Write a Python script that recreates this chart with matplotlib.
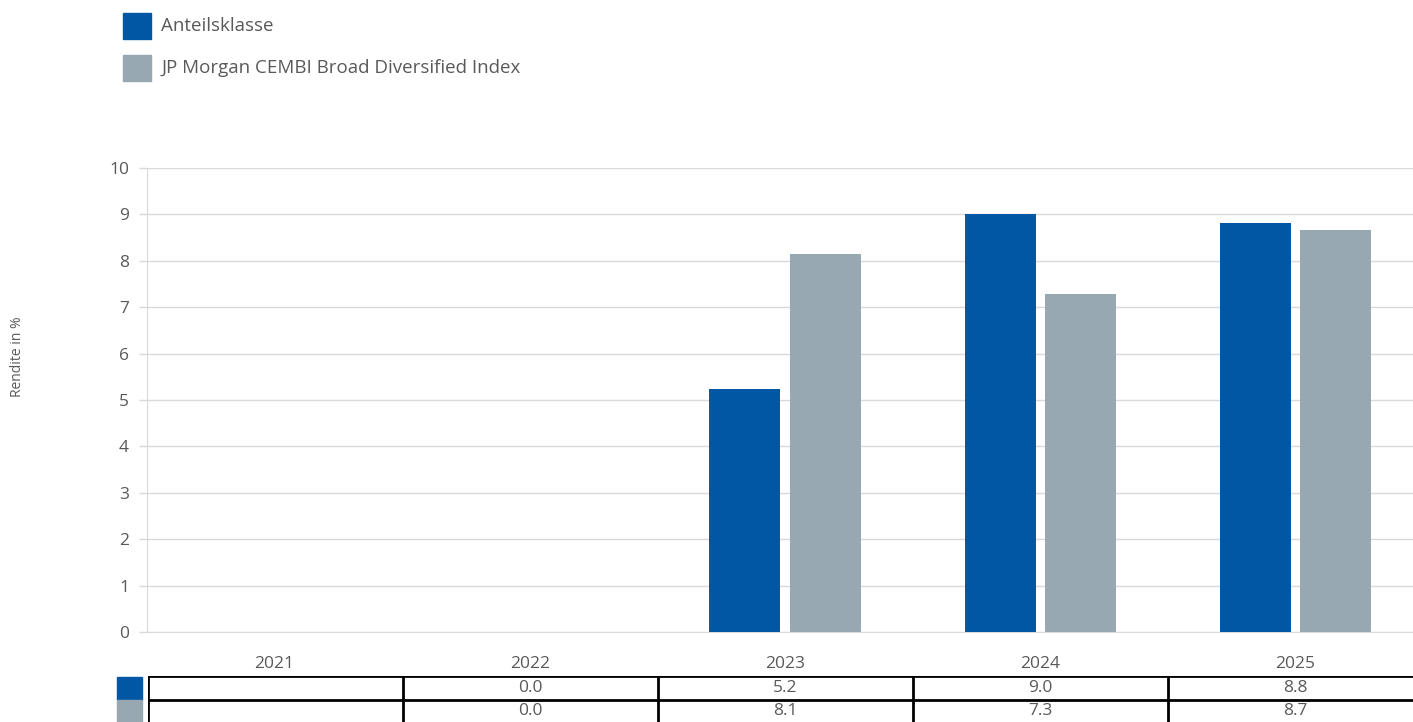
import numpy as np
import matplotlib.pyplot as plt
from matplotlib.patches import Rectangle

# ---- data ----
years = ["2021", "2022", "2023", "2024", "2025"]
fund = [np.nan, 0.0, 5.24, 9.0, 8.81]
index = [np.nan, 0.0, 8.14, 7.28, 8.66]
series_names = ["Anteilsklasse", "JP Morgan CEMBI Broad Diversified Index"]
colors = ["#0057a4", "#97a8b3"]

TEXT = "#595959"
GRID = "#d9d9d9"
plt.rcParams["font.family"] = ["Open Sans", "DejaVu Sans"]

W, H = 1413, 722
fig = plt.figure(figsize=(W / 100, H / 100), dpi=100)

def fx(px):
    return px / W

def fy(py):
    return 1 - py / H

# main axes (runs a little past the right edge, like the original)
ax = fig.add_axes([fx(147), fy(632), fx(1423) - fx(147), fy(168) - fy(632)])
x = np.arange(len(years))
bw = 0.278
ax.bar(x - 0.157, fund, width=bw, color=colors[0], zorder=3)
ax.bar(x + 0.157, index, width=bw, color=colors[1], zorder=3)
ax.set_xlim(-0.5, len(years) - 0.5)
ax.set_ylim(0, 10)
ax.set_yticks(range(0, 11))
ax.grid(True, axis="y", color=GRID, linewidth=1, zorder=0)
for s in ["top", "right"]:
    ax.spines[s].set_visible(False)
ax.spines["left"].set_color(GRID)
ax.spines["bottom"].set_color(GRID)
ax.tick_params(axis="y", colors=GRID, labelcolor=TEXT, labelsize=12.5, length=6, width=1, pad=7)
ax.set_xticks(x)
ax.set_xticklabels(years)
ax.tick_params(axis="x", length=0, labelcolor=TEXT, labelsize=12.5, pad=17)

fig.text(fx(18), fy(357), "Rendite in %", rotation=90, ha="center", va="center",
         fontsize=10, color=TEXT)

# legend
for i, (name, c) in enumerate(zip(series_names, colors)):
    top = 13 + i * 42
    fig.add_artist(Rectangle((fx(123), fy(top + 26)), fx(28), fy(0) - fy(26),
                             transform=fig.transFigure, color=c))
    fig.text(fx(161), fy(top + 13), name, ha="left", va="center", fontsize=13.5, color=TEXT)

# data table
tax = fig.add_axes([fx(148), fy(676 + 3 * 23.5), fx(1423) - fx(148), fy(676) - fy(676 + 3 * 23.5)])
tax.set_xlim(-0.5, len(years) - 0.5)
tax.set_ylim(3, 0)
tax.axis("off")
for r in range(3):
    tax.axhline(r, color="black", linewidth=2)
for c in range(len(years) + 1):
    tax.axvline(c - 0.5, color="black", linewidth=2)
for r, vals in enumerate([fund, index]):
    for c, v in enumerate(vals):
        if not np.isnan(v):
            tax.text(c, r + 0.5, f"{v:.1f}", ha="center", va="center", fontsize=12.5, color=TEXT)
    fig.add_artist(Rectangle((fx(117), fy(676 + 23.5 * (r + 1))), fx(25), fy(0) - fy(23),
                             transform=fig.transFigure, color=colors[r]))

fig.savefig("out.png", dpi=100)
